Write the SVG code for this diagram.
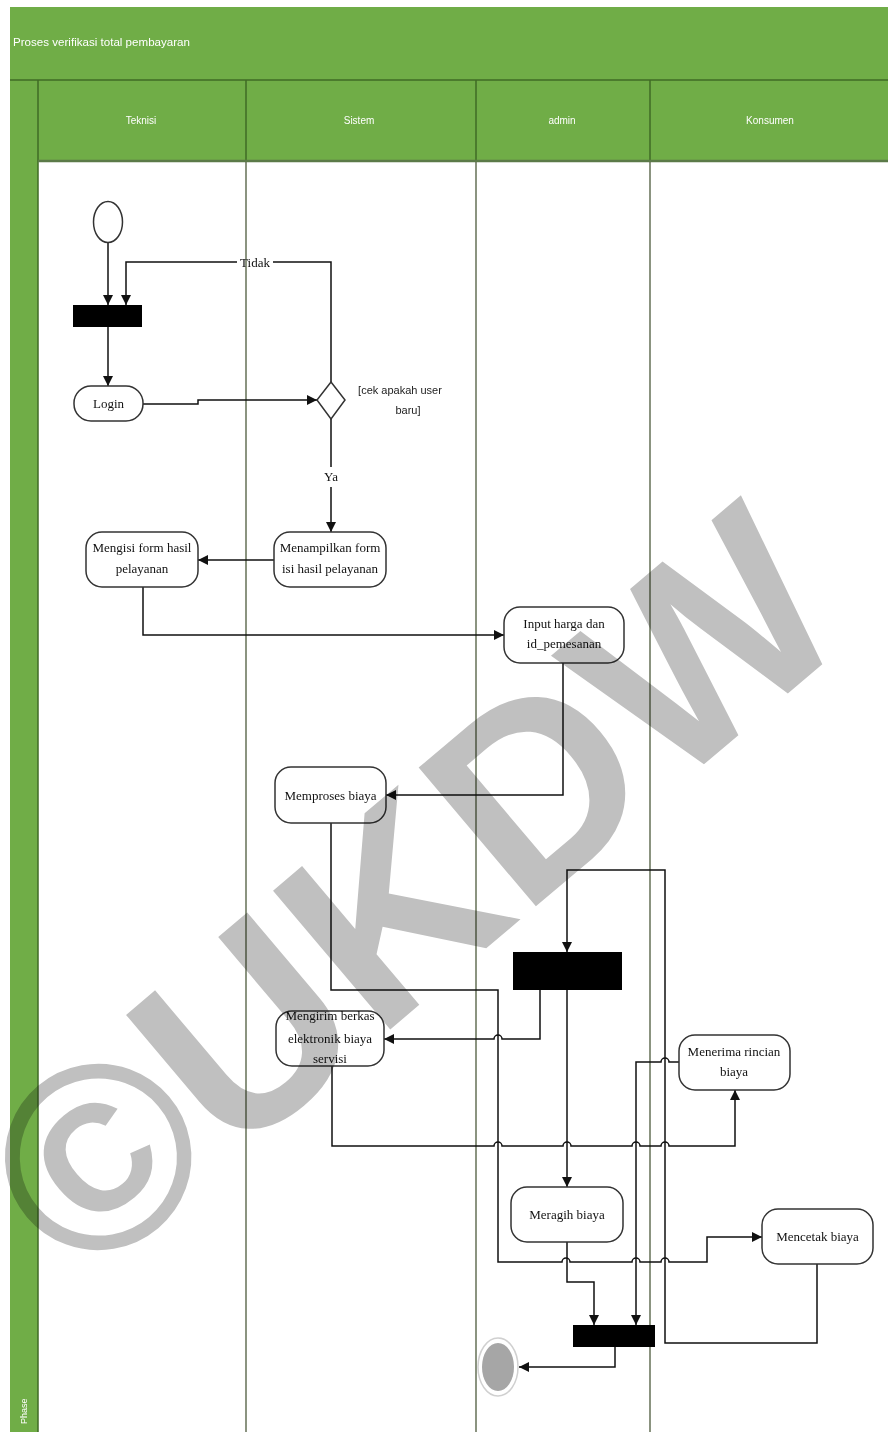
<svg xmlns="http://www.w3.org/2000/svg" width="888" height="1432" viewBox="0 0 888 1432">
<defs>
<marker id="arr" viewBox="0 0 10 10" refX="10" refY="5" markerWidth="10" markerHeight="10" markerUnits="userSpaceOnUse" orient="auto">
<path d="M0,0 L10,5 L0,10 z" fill="#111"/>
</marker>
<style>
.hdr{fill:#70ad47}
.hl{stroke:#3f6b25;stroke-width:1.5;fill:none}
.lane{stroke:#4d5a3c;stroke-width:1.3;fill:none}
.ht{font-family:"Liberation Sans","DejaVu Sans",sans-serif;font-size:10px;fill:#ffffff}
.act{fill:#ffffff;stroke:#333;stroke-width:1.5}
.t{font-family:"Liberation Serif","DejaVu Serif",serif;font-size:13px;fill:#111;text-anchor:middle}
.g{font-family:"Liberation Sans","DejaVu Sans",sans-serif;font-size:11px;fill:#222;text-anchor:middle}
.bar{fill:#000}
.c{stroke:#111;stroke-width:1.5;fill:none}
.ca{stroke:#111;stroke-width:1.5;fill:none;marker-end:url(#arr)}
</style>
</defs>
<rect width="888" height="1432" fill="#ffffff"/>
<g id="swimlane-frame">
<rect class="hdr" x="10" y="7" width="878" height="155"/>
<rect class="hdr" x="10" y="80" width="28" height="1352"/>
<line class="hl" x1="10" y1="80" x2="888" y2="80"/>
<line class="hl" x1="38" y1="80" x2="38" y2="1432"/>
<line class="hl" x1="246" y1="80" x2="246" y2="162"/>
<line class="hl" x1="476" y1="80" x2="476" y2="162"/>
<line class="hl" x1="650" y1="80" x2="650" y2="162"/>
<line x1="38" y1="161" x2="888" y2="161" stroke="#5b7a48" stroke-width="2.5"/>
<text class="ht" x="13" y="46" textLength="177" lengthAdjust="spacingAndGlyphs">Proses verifikasi total pembayaran</text>
<text class="ht" x="141" y="124" text-anchor="middle">Teknisi</text>
<text class="ht" x="359" y="124" text-anchor="middle">Sistem</text>
<text class="ht" x="562" y="124" text-anchor="middle">admin</text>
<text class="ht" x="770" y="124" text-anchor="middle">Konsumen</text>
<text class="ht" transform="translate(27,1424) rotate(-90)" style="font-size:9px">Phase</text>
<line class="lane" x1="246" y1="162" x2="246" y2="1432"/>
<line class="lane" x1="476" y1="162" x2="476" y2="1432"/>
<line class="lane" x1="650" y1="162" x2="650" y2="1432"/>
</g>
<g id="connectors">
<path class="ca" d="M108,243 V305"/>
<path class="ca" d="M331,382 V262 H273 M237,262 H126 V305"/>
<text class="t" x="255" y="267">Tidak</text>
<path class="ca" d="M108,327 V386"/>
<path class="ca" d="M143,404 H198 V400 H317"/>
<path class="ca" d="M331,419 V467 M331,487 V532"/>
<text class="t" x="331" y="481">Ya</text>
<path class="ca" d="M274,560 H198"/>
<path class="ca" d="M143,587 V635 H504"/>
<path class="ca" d="M563,663 V795 H386"/>
<path class="ca" d="M331,823 V990 H498 V1262 H562 a4,4 0 0 1 8,0 H632 a4,4 0 0 1 8,0 H661 a4,4 0 0 1 8,0 H707 V1237 H762"/>
<path class="ca" d="M817,1264 V1343 H665 V870 H567 V952"/>
<path class="ca" d="M540,990 V1039 H502 a4,4 0 0 0 -8,0 H384"/>
<path class="ca" d="M567,990 V1187"/>
<path class="ca" d="M332,1066 V1146 H494 a4,4 0 0 1 8,0 H563 a4,4 0 0 1 8,0 H632 a4,4 0 0 1 8,0 H661 a4,4 0 0 1 8,0 H735 V1090"/>
<path class="ca" d="M679,1062 H669 a4,4 0 0 0 -8,0 H636 V1325"/>
<path class="ca" d="M567,1242 V1282 H594 V1325"/>
<path class="ca" d="M615,1347 V1367 H519"/>
</g>
<g id="start"><ellipse cx="108" cy="222" rx="14.5" ry="20.5" fill="#fff" stroke="#333" stroke-width="1.5"/></g>
<g id="fork1"><rect class="bar" x="73" y="305" width="69" height="22"/></g>
<g id="login"><rect class="act" x="74" y="386" width="69" height="35" rx="17"/><text class="t" x="108.5" y="408">Login</text></g>
<g id="decision"><path d="M331,382 L345,400 L331,419 L317,400 Z" fill="#fff" stroke="#333" stroke-width="1.5"/></g>
<g id="guard"><text class="g" x="400" y="394">[cek apakah user</text><text class="g" x="408" y="414">baru]</text></g>
<g id="menampilkan"><rect class="act" x="274" y="532" width="112" height="55" rx="16"/><text class="t" x="330" y="552">Menampilkan form</text><text class="t" x="330" y="573">isi hasil pelayanan</text></g>
<g id="mengisi"><rect class="act" x="86" y="532" width="112" height="55" rx="16"/><text class="t" x="142" y="552">Mengisi form hasil</text><text class="t" x="142" y="573">pelayanan</text></g>
<g id="input"><rect class="act" x="504" y="607" width="120" height="56" rx="16"/><text class="t" x="564" y="628">Input harga dan</text><text class="t" x="564" y="648">id_pemesanan</text></g>
<g id="memproses"><rect class="act" x="275" y="767" width="111" height="56" rx="16"/><text class="t" x="330.5" y="800">Memproses biaya</text></g>
<g id="fork2"><rect class="bar" x="513" y="952" width="109" height="38"/></g>
<g id="mengirim"><rect class="act" x="276" y="1011" width="108" height="55" rx="16"/><text class="t" x="330" y="1020">Mengirim berkas</text><text class="t" x="330" y="1043">elektronik biaya</text><text class="t" x="330" y="1063">servisi</text></g>
<g id="menerima"><rect class="act" x="679" y="1035" width="111" height="55" rx="16"/><text class="t" x="734" y="1056">Menerima rincian</text><text class="t" x="734" y="1076">biaya</text></g>
<g id="meragih"><rect class="act" x="511" y="1187" width="112" height="55" rx="16"/><text class="t" x="567" y="1219">Meragih biaya</text></g>
<g id="mencetak"><rect class="act" x="762" y="1209" width="111" height="55" rx="16"/><text class="t" x="817.5" y="1241">Mencetak biaya</text></g>
<g id="join"><rect class="bar" x="573" y="1325" width="82" height="22"/></g>
<g id="end"><ellipse cx="498" cy="1367" rx="20" ry="29" fill="#fff" stroke="#d0d0d0" stroke-width="1.5"/><ellipse cx="498" cy="1367" rx="16" ry="24" fill="#a6a6a6"/></g>
<g id="watermark" transform="translate(96,1155) rotate(-40.2)" style="mix-blend-mode:multiply">
<text x="-97" y="94" font-family="Liberation Sans, Arial, sans-serif" font-weight="bold" font-size="264" fill="#c0c0c0">©UKDW</text>
</g>
</svg>
